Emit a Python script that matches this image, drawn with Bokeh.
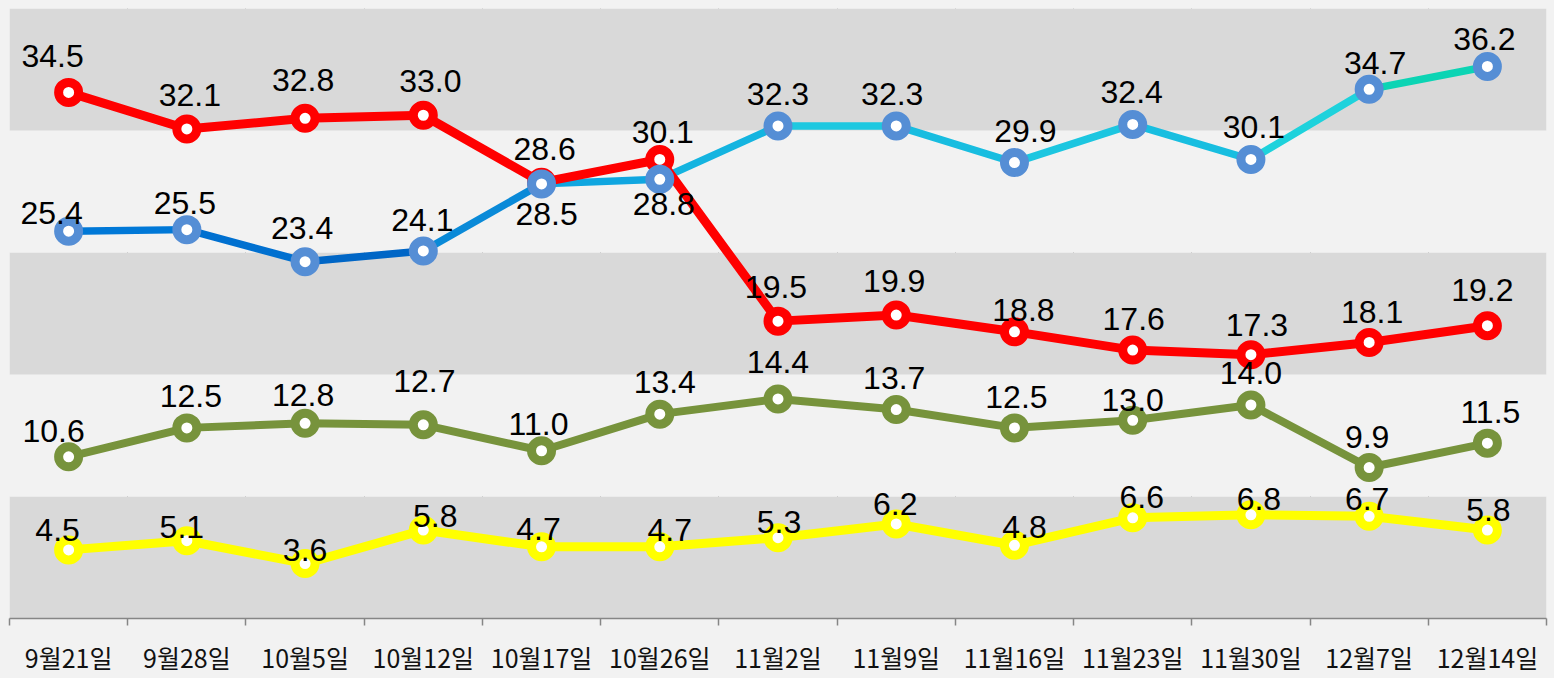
from bokeh.plotting import figure
from bokeh.models import ColumnDataSource, BoxAnnotation, FixedTicker, Range1d
from bokeh.core.properties import value
from bokeh.embed import file_html
from bokeh.resources import INLINE

# ---------------- data ----------------
dates = ["9월21일", "9월28일", "10월5일", "10월12일", "10월17일", "10월26일", "11월2일",
         "11월9일", "11월16일", "11월23일", "11월30일", "12월7일", "12월14일"]
red_vals = [34.5, 32.1, 32.8, 33.0, 28.6, 30.1, 19.5, 19.9, 18.8, 17.6, 17.3, 18.1, 19.2]
blue_vals = [25.4, 25.5, 23.4, 24.1, 28.5, 28.8, 32.3, 32.3, 29.9, 32.4, 30.1, 34.7, 36.2]
green_vals = [10.6, 12.5, 12.8, 12.7, 11.0, 13.4, 14.4, 13.7, 12.5, 13.0, 14.0, 9.9, 11.5]
yellow_vals = [4.5, 5.1, 3.6, 5.8, 4.7, 4.7, 5.3, 6.2, 4.8, 6.6, 6.8, 6.7, 5.8]
band_edges = [0, 8, 16, 24, 32, 40]

# ---------------- styles (label offsets in screen px) ----------------
red_dx = [-16, 3, -2, 7, 3, 3, -2, -2, 9, 1, 6, 3, -5]
red_dy = [-36, -34, -38, -34, -33, -27, -34, -34, -22, -31, -30, -30, -36]
blue_dx = [-17, -2, -3, -1, 5, 4, 0, -4, 11, -1, 3, 6, -3]
blue_dy = [-18, -27, -34, -31, 30, 25, -32, -32, -32, -32, -32, -26, -27]
green_dx = [-15, 4, -2, 1, -3, 5, 0, -2, 2, 0, 0, -2, 3]
green_dy = [-26, -32, -28, -44, -27, -32, -37, -32, -31, -20, -32, -31, -31]
yellow_dx = [-11, -5, 0, 12, -3, 10, 1, -1, 10, 9, 8, -2, 1]
yellow_dy = [-20, -14, -14, -14, -18, -17, -16, -20, -18, -21, -16, -17, -20]
blue_seg_colors = ["#0078d7", "#0070d0", "#0066c6", "#0a8ad8", "#10a6e0", "#14b4e0",
                   "#1ec8e0", "#18bde0", "#1cc6e0", "#18bee0", "#1ed2dc", "#0cd4b4"]

n = len(dates)
xs = list(range(n))
bounds = [i - 0.5 for i in range(n + 1)]

p = figure(width=1552, height=677, output_backend="svg", toolbar_location=None,
           x_range=Range1d(-0.5, n - 0.5), y_range=Range1d(band_edges[0], band_edges[-1]),
           min_border_left=9, min_border_right=6, min_border_top=8, min_border_bottom=57,
           y_axis_location=None)
p.background_fill_color = "#f2f2f2"
p.border_fill_color = "#f2f2f2"
p.outline_line_color = None
p.ygrid.visible = False

for k in range(len(band_edges) - 1):
    col = "#d9d9d9" if k % 2 == 0 else "#f2f2f2"
    p.add_layout(BoxAnnotation(bottom=band_edges[k], top=band_edges[k + 1],
                               fill_color=col, fill_alpha=1.0, line_color=None, level="underlay"))

p.xgrid.ticker = FixedTicker(ticks=bounds)
p.xgrid.grid_line_color = "#7f7f7f"
p.xgrid.grid_line_dash = "4 3"
p.xgrid.grid_line_width = 1
p.xgrid.level = "underlay"

ax = p.xaxis[0]
ax.ticker = FixedTicker(ticks=xs, minor_ticks=bounds)
ax.major_label_overrides = {i: d for i, d in enumerate(dates)}
ax.major_tick_line_color = None
ax.minor_tick_line_color = "#868686"
ax.minor_tick_out = 7
ax.minor_tick_in = 0
ax.minor_tick_line_width = 1.5
ax.axis_line_color = "#868686"
ax.axis_line_width = 1.5
ax.major_label_text_font = "Noto Sans CJK KR"
ax.major_label_text_font_size = "25px"
ax.major_label_text_color = "#111111"
ax.major_label_standoff = 13

# green
gsrc = ColumnDataSource(dict(x=xs, y=green_vals))
p.line("x", "y", source=gsrc, line_color="#77933c", line_width=8, line_join="round")
p.scatter("x", "y", source=gsrc, size=20, fill_color="white", line_color="#77933c", line_width=9)

# yellow
ysrc = ColumnDataSource(dict(x=xs, y=yellow_vals))
p.line("x", "y", source=ysrc, line_color="#ffff00", line_width=9, line_join="round")
p.scatter("x", "y", source=ysrc, size=20, fill_color="white", line_color="#ffff00", line_width=9)

# blue line (segmented colours)
bseg = ColumnDataSource(dict(x0=xs[:-1], y0=blue_vals[:-1], x1=xs[1:], y1=blue_vals[1:],
                             c=blue_seg_colors))
p.segment("x0", "y0", "x1", "y1", source=bseg, line_color="c", line_width=7.5, line_cap="round")

# red
rsrc = ColumnDataSource(dict(x=xs, y=red_vals))
p.line("x", "y", source=rsrc, line_color="#ff0000", line_width=9, line_join="round")
p.scatter("x", "y", source=rsrc, size=20, fill_color="white", line_color="#ff0000", line_width=9)

# blue markers
bsrc = ColumnDataSource(dict(x=xs, y=blue_vals))
p.scatter("x", "y", source=bsrc, size=20, fill_color="white", line_color="#558ed5", line_width=9)

# labels
for vals, dx, dy in [(red_vals, red_dx, red_dy), (blue_vals, blue_dx, blue_dy),
                     (green_vals, green_dx, green_dy), (yellow_vals, yellow_dx, yellow_dy)]:
    src = ColumnDataSource(dict(x=xs, y=vals, t=[f"{v:.1f}" for v in vals], dx=dx, dy=dy))
    p.text("x", "y", text="t", source=src, x_offset="dx", y_offset="dy",
           text_font=value("Liberation Sans"), text_font_size="32px", text_color="#000000",
           text_align="center", text_baseline="middle")

html = file_html(p, INLINE)
html = html.replace("</head>", "<style>body{background:#f2f2f2;}</style></head>", 1)
open("out.html", "w").write(html)
